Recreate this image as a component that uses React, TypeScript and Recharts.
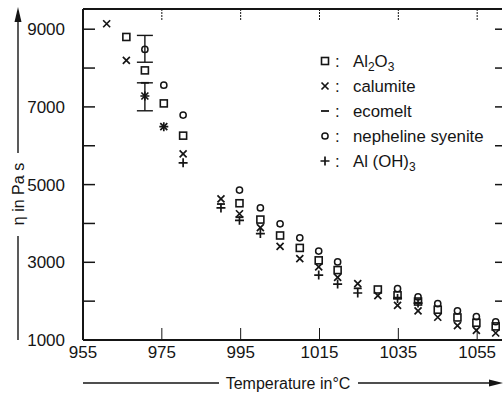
import React from 'react'
import { ScatterChart, Scatter, XAxis, YAxis, ErrorBar, Legend } from 'recharts'

const INK = '#151515'
const NUM_FONT = '"Liberation Sans Narrow", "Arial Narrow", sans-serif'
const TEXT_FONT = '"Liberation Sans", Arial, sans-serif'

// temperature in °C / viscosity in Pa s
const al2o3Temp = [966, 970.7, 975.5, 980.4, 994.7, 1000, 1005, 1010, 1014.8, 1019.6, 1029.8, 1034.8, 1040, 1045, 1050, 1054.8, 1059.7]
const al2o3Eta = [8800, 7940, 7090, 6260, 4520, 4100, 3690, 3370, 3050, 2800, 2300, 2150, 1990, 1780, 1580, 1445, 1350]

const calumiteTemp = [961, 966, 970.7, 975.5, 980.4, 990, 994.7, 1000, 1005, 1010, 1014.8, 1019.6, 1024.7, 1029.8, 1034.8, 1040, 1045, 1050, 1054.8, 1059.7]
const calumiteEta = [9140, 8200, 7280, 6490, 5790, 4630, 4250, 3890, 3410, 3095, 2880, 2610, 2450, 2140, 1890, 1750, 1585, 1370, 1250, 1180]

const ecomeltTemp = [970.7, 990, 994.7, 1024.7, 1034.8, 1040]
const ecomeltEta = [7620, 4500, 4160, 2330, 2090, 1960]

const nephelineTemp = [970.7, 975.5, 980.4, 994.7, 1000, 1005, 1010, 1014.8, 1019.6, 1034.8, 1040, 1045, 1050, 1054.8, 1059.7]
const nephelineEta = [8480, 7560, 6790, 4860, 4400, 3990, 3630, 3290, 3010, 2320, 2110, 1935, 1750, 1600, 1470]

const aloh3Temp = [970.7, 975.5, 980.4, 990, 994.7, 1000, 1014.8, 1019.6, 1024.7, 1034.8, 1040]
const aloh3Eta = [7280, 6490, 5560, 4400, 4080, 3740, 2670, 2440, 2210, 2070, 1950]

// points that carry an error bar: [below, above]
const errTemp = [970.7, 970.7]
const errEta = [8480, 7280]
const errRange = [[330, 360], [380, 340]]

const SERIES = ['Al2O3', 'calumite', 'ecomelt', 'nepheline syenite', 'Al(OH)3']
const X_TICKS = [955, 975, 995, 1015, 1035, 1055]
const TOP_TICKS = [975, 995, 1015, 1035, 1055]
const Y_TICKS = [1000, 2000, 3000, 4000, 5000, 6000, 7000, 8000, 9000]
const X_DOMAIN = [955, 1061.3]
const Y_DOMAIN = [1000, 9520]

const toPoints = (t: number[], eta: number[]) => t.map((v, i) => ({ t: v, eta: eta[i] }))
const errPoints = errTemp.map((v, i) => ({ t: v, eta: errEta[i], err: errRange[i] }))

const SquareMark = ({ cx, cy }: any) => (
  <rect x={cx - 3.5} y={cy - 3.5} width={7} height={7} fill="none" stroke={INK} strokeWidth={1.6} />
)
const CrossMark = ({ cx, cy }: any) => (
  <path d={`M${cx - 3.5},${cy - 3.5}L${cx + 3.5},${cy + 3.5}M${cx + 3.5},${cy - 3.5}L${cx - 3.5},${cy + 3.5}`} stroke={INK} strokeWidth={1.7} />
)
const DashMark = ({ cx, cy }: any) => (
  <line x1={cx - 4} y1={cy} x2={cx + 4} y2={cy} stroke={INK} strokeWidth={1.8} />
)
const CircleMark = ({ cx, cy }: any) => (
  <circle cx={cx} cy={cy} r={3.1} fill="none" stroke={INK} strokeWidth={1.5} />
)
const PlusMark = ({ cx, cy }: any) => (
  <path d={`M${cx - 4.5},${cy}L${cx + 4.5},${cy}M${cx},${cy - 4.5}L${cx},${cy + 4.5}`} stroke={INK} strokeWidth={1.7} />
)
const NoMark = () => <g />

const MARKS: Record<string, (p: any) => React.ReactElement> = {
  Al2O3: SquareMark,
  calumite: CrossMark,
  ecomelt: DashMark,
  'nepheline syenite': CircleMark,
  'Al(OH)3': PlusMark,
}

const sub = { fontSize: 12, verticalAlign: -4 }
const LABELS: Record<string, React.ReactNode> = {
  Al2O3: <span>Al<sub style={sub}>2</sub>O<sub style={sub}>3</sub></span>,
  'Al(OH)3': <span>Al (OH)<sub style={sub}>3</sub></span>,
}

function renderLegend({ payload }: any) {
  const names = (payload || []).map((p: any) => p.value)
  const rows = SERIES.filter((s) => names.includes(s))
  return (
    <div style={{ fontFamily: TEXT_FONT, fontSize: 16.8, color: INK }}>
      {rows.map((name) => {
        const Mark = MARKS[name]
        return (
          <div key={name} style={{ height: 25, position: 'relative' }}>
            <svg width={14} height={14} style={{ position: 'absolute', left: 0, top: 5 }}>
              <Mark cx={7} cy={7} />
            </svg>
            <span style={{ position: 'absolute', left: 17, lineHeight: '25px' }}>:</span>
            <span style={{ position: 'absolute', left: 35, whiteSpace: 'nowrap', lineHeight: '25px' }}>{LABELS[name] ?? name}</span>
          </div>
        )
      })}
    </div>
  )
}

function LeftTick({ x, y, payload }: any) {
  const v = payload.value
  return (
    <g>
      <line x1={x} y1={y} x2={x + 12} y2={y} stroke={INK} strokeWidth={1.5} />
      {v % 2000 === 1000 && (
        <text x={x - 18} y={y + 6} textAnchor="end" fontFamily={NUM_FONT} fontSize={17} fill={INK}>{v}</text>
      )}
    </g>
  )
}

function RightTick({ x, y }: any) {
  return <line x1={x} y1={y} x2={x - 7} y2={y} stroke={INK} strokeWidth={1.5} />
}

function BottomTick({ x, y, payload }: any) {
  const v = payload.value
  return (
    <g>
      {v !== 955 && <line x1={x} y1={y} x2={x} y2={y - 12} stroke={INK} strokeWidth={1} />}
      <text x={x} y={y + 18} textAnchor="middle" fontFamily={NUM_FONT} fontSize={17} fill={INK}>{v}</text>
    </g>
  )
}

function TopTick({ x, y }: any) {
  return <line x1={x} y1={y} x2={x} y2={y + 12} stroke={INK} strokeWidth={1} strokeDasharray="2 1" />
}

export default function App() {
  return (
    <div style={{ position: 'absolute', left: 0, top: 0, width: 503, height: 394, background: '#fff' }}>
      <ScatterChart width={503} height={394} margin={{ top: 0, right: 0, bottom: 0, left: 0 }}>
        <XAxis xAxisId="b" type="number" dataKey="t" orientation="bottom" domain={X_DOMAIN} ticks={X_TICKS}
          height={54} tickSize={0} tickMargin={0} tickLine={false} tick={<BottomTick />}
          axisLine={{ stroke: INK, strokeWidth: 2 }} />
        <XAxis xAxisId="top" type="number" dataKey="t" orientation="top" domain={X_DOMAIN} ticks={TOP_TICKS}
          height={9} tickSize={0} tickMargin={0} tickLine={false} tick={<TopTick />}
          axisLine={{ stroke: INK, strokeWidth: 2 }} />
        <YAxis yAxisId="l" type="number" dataKey="eta" domain={Y_DOMAIN} ticks={Y_TICKS}
          width={83} tickSize={0} tickMargin={0} tickLine={false} tick={<LeftTick />}
          axisLine={{ stroke: INK, strokeWidth: 2 }} />
        <YAxis yAxisId="r" type="number" dataKey="eta" orientation="right" domain={Y_DOMAIN} ticks={Y_TICKS.slice(1)}
          width={1} tickSize={0} tickMargin={0} tickLine={false} tick={<RightTick />}
          axisLine={false} />
        <Legend layout="vertical" align="center" verticalAlign="middle" content={renderLegend}
          wrapperStyle={{ left: 318, top: 49, width: 180, height: 130 }} />
        <Scatter name="Al2O3" data={toPoints(al2o3Temp, al2o3Eta)} xAxisId="b" yAxisId="l" shape={SquareMark} isAnimationActive={false} />
        <Scatter name="calumite" data={toPoints(calumiteTemp, calumiteEta)} xAxisId="b" yAxisId="l" shape={CrossMark} isAnimationActive={false} />
        <Scatter name="ecomelt" data={toPoints(ecomeltTemp, ecomeltEta)} xAxisId="b" yAxisId="l" shape={DashMark} isAnimationActive={false} />
        <Scatter name="nepheline syenite" data={toPoints(nephelineTemp, nephelineEta)} xAxisId="b" yAxisId="l" shape={CircleMark} isAnimationActive={false} />
        <Scatter name="Al(OH)3" data={toPoints(aloh3Temp, aloh3Eta)} xAxisId="b" yAxisId="l" shape={PlusMark} isAnimationActive={false} />
        {/* error bars sit on the top/right axes (same domains) so the frame axes get drawn */}
        <Scatter name="err" legendType="none" data={errPoints} xAxisId="top" yAxisId="r" shape={NoMark} isAnimationActive={false}>
          <ErrorBar dataKey="err" direction="y" width={8} stroke={INK} strokeWidth={1.4} />
        </Scatter>
      </ScatterChart>
      <svg width={503} height={394} style={{ position: 'absolute', left: 0, top: 0, pointerEvents: 'none' }}>
        <g stroke={INK} strokeWidth={1.4}>
          <line x1={18} y1={340} x2={18} y2={236} />
          <line x1={18} y1={153} x2={18} y2={20} />
          <line x1={83} y1={383} x2={219} y2={383} />
          <line x1={358} y1={383} x2={492} y2={383} />
        </g>
        <path d="M18,7 L14.5,22 L21.5,22 Z" fill={INK} />
        <path d="M503,383 L489,379.5 L489,386.5 Z" fill={INK} />
        <text x={18} y={194} transform="rotate(-90 18 194)" textAnchor="middle" dominantBaseline="central"
          fontFamily={TEXT_FONT} fontSize={16} fill={INK}>η in Pa s</text>
        <text x={288} y={383} textAnchor="middle" dominantBaseline="central"
          fontFamily={TEXT_FONT} fontSize={16} fill={INK}>Temperature in°C</text>
      </svg>
    </div>
  )
}
